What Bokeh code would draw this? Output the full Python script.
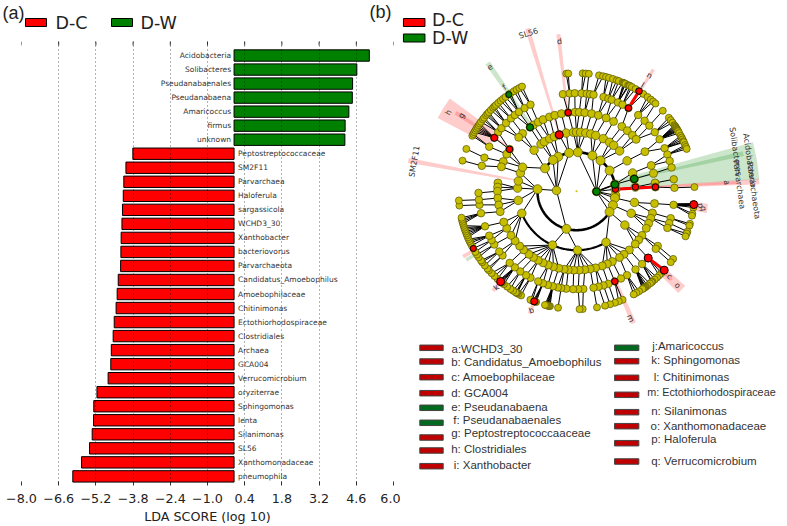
import math
import numpy as np
from bokeh.core.properties import value
from bokeh.embed import file_html
from bokeh.layouts import column, row
from bokeh.models import FixedTicker, Range1d
from bokeh.plotting import figure
from bokeh.resources import INLINE

# ---------- panel (a): LDA scores ----------
green_names = ["Acidobacteria", "Solibacteres", "Pseudanabaenales", "Pseudanabaena",
               "Amaricoccus", "firmus", "unknown"]
green_scores = [5.09, 4.62, 4.46, 4.45, 4.32, 4.18, 4.17]
red_names = ["Peptostreptococcaceae", "SM2F11", "Parvarchaea", "Haloferula", "sargassicola",
             "WCHD3_30", "Xanthobacter", "bacteriovorus", "Parvarchaeota",
             "Candidatus_Amoebophilus", "Amoebophilaceae", "Chitinimonas",
             "Ectothiorhodospiraceae", "Clostridiales", "Archaea", "GCA004", "Verrucomicrobium",
             "oryziterrae", "Sphingomonas", "lenta", "Silanimonas", "SL56",
             "Xanthomonadaceae", "pneumophila"]
red_scores = [-3.81, -4.07, -4.15, -4.17, -4.20, -4.22, -4.25, -4.26, -4.27, -4.36, -4.40, -4.44,
              -4.51, -4.55, -4.62, -4.64, -4.74, -5.16, -5.28, -5.29, -5.34, -5.44, -5.74, -6.07]
tick_values = [-8.0, -6.6, -5.2, -3.8, -2.4, -1.0, 0.4, 1.8, 3.2, 4.6, 6.0]
tick_labels = ["\u22128.0", "\u22126.6", "\u22125.2", "\u22123.8", "\u22122.4", "\u22121.0",
               "0.4", "1.8", "3.2", "4.6", "6.0"]

# ---------- panel (b): cladogram, node angles (degrees) read per ring ----------
ring_radii = [20, 39, 59, 79, 98, 118]
ring1 = [-1, 178]
ring2 = [10, 3, 32, 52, 66, 88, 101, 118, 127, 144, 177, -105, -6, -10, -21, -32]
ring3 = [136, 127, 123, 117, 112, 107, 100, 93, 90, 86, 81, 76, 71, 63, 56, 51, 43, 31, 18, 12, 4,
         -11, -22, -35, -60, -89, -114, -158, 177, 170, 162, 156, -171]
ring4 = [133, 137, 126, 123, 119, 115, 110, 106, 101, 96, 91, 88, 84, 79, 74, 68, 62, 55, 50, 45,
         41, 30, 19, 13, 6, 3, -9, -16, -20, -24, -28, -34, -38, -42, -48, -53, -57, -63, -67, -71,
         -76, -80, -84, -88, -92, -96, -99, -103, -107, -111, -115, -119, -123, -127, -132, -136,
         -141, -146, -152, -157, 148, 152, 158, 162, 174, 177, 180, -175, -170, -165]
ring5 = [147, 153, 160, 165, 143, 140, 136, 132, 129, 126, 122, 118, 98, 94, 91, 87, 84, 82, 80, 74,
         71, 69, 65, 62, 58, 51, 46, 42, 37, 32, 26, 22, 18, 14, 7, 2, -8, -16, -19, -22, -34, -36,
         -43, -48, -53, -59, -63, -67, -71, -74, -77, -80, -86, -89, -92, -96, -99, -101, -104,
         -107, -110, -113, -118, -121, -125, -129, -133, -139, -142, -147, -150, -153, -159, -167,
         -172, -175, -179]
ring6 = [165, 159, 152, 151, 150, 149, 148, 147, 146, 145, 144, 142.5, 141.5, 140, 139, 138, 136.5,
         135, 134, 133, 131.5, 130, 128.5, 127, 125, 124, 122, 120.5, 119, 117.5, 95, 94, 87, 85.5,
         84, 79, 77, 75.5, 74, 72, 70, 69, 67, 66.5, 66, 65.5, 64, 63.5, 63, 62, 60, 58, 55.5, 53,
         51, 49.5, 48, 43, 38.5, 37, 35.5, 34, 33.5, 33, 32.5, 32, 31.5, 31, 30.5, 29.5, 28, 27, 26,
         25, 24.5, 23, 22, 21, 2, -6.5, -7.2, -8, -11, -12, -16, -17, -20, -21, -22.5, -35, -37,
         -42, -44, -45.5, -47, -48.5, -50, -50.5, -51.5, -53, -54, -54.5, -55, -55.5, -56, -58,
         -59.5, -61, -67, -69, -71, -73.5, -76, -80, -87, -88.5, -99, -103, -103.5, -104, -104.5,
         -105, -105.5, -110, -110.5, -111, -111.5, -112, -113, -118, -119.5, -120.2, -120.6, -121,
         -122.5, -124, -126, -128, -129, -129.5, -130, -130.5, -131, -132, -134, -136, -138, -139,
         -141, -143, -144, -146, -147.5, -149, -151, -152.5, -154, -155, -156, -157, -158, -159,
         -160, -161, -162, -163, -164, -165, -166, -167, -173, -175.5]
rings = [ring1, ring2, ring3, ring4, ring5, ring6]
ring_sizes = [8.5, 9, 8.5, 8, 7.5, 7]

red_node_ring = [1, 2, 3, 3, 4, 2, 3, 5, 4, 5, 5, 4, 4, 5, 5, 5]
red_node_angle = [3, 4, 3, 148, 147, 107, 96, 58, 58, -6.5, -42, -43, -67, -130, -111, -151]
red_node_size = [6.5, 6.5, 6.5, 6.5, 7, 8, 6.5, 6.5, 6.5, 8, 8, 8, 6.5, 8, 7, 6]
green_node_ring = [0, 1, 2, 3, 5]
green_node_angle = [-1, 10, 12, 126, 125]
green_node_size = [7.5, 7.5, 7.5, 7, 6]

# highlighted clades: centre angle, angular width, inner and outer radius
wedge_angle = [9.6, 12.7, 124.7, 3.05, 3.05, 148, 147, 169.6, 106.8, 96.6, 57.7, -43, -43,
               -66.6, -6.5, -8.5, -150, -148, -130, -111]
wedge_width = [11.8, 1.7, 2.0, 1.7, 1.0, 8.4, 1.6, 1.6, 1.6, 1.5, 1.4, 4.0, 1.5, 2.0, 2.0, 2.0,
               1.6, 1.6, 1.8, 1.6]
wedge_inner = [39, 59, 79, 39, 59, 98, 79, 59, 59, 79, 98, 118, 98, 98, 118, 118, 118, 118, 118, 118]
wedge_outer = [183, 171, 156, 183, 160, 157, 144, 171, 170, 158, 144, 144, 130, 144, 132, 132,
               131, 130, 130, 131]
wedge_color = ["g", "g", "g", "r", "r", "r", "r", "r", "r", "r", "r", "r", "r", "r", "r", "r",
               "r", "g", "r", "r"]

clade_labels = ["Acidobacteria", "Parvarchaeota", "Solibacteres", "Parvarchaea", "a", "SM2F11", "h",
                "g", "SL56", "d", "e", "f", "n", "l", "p", "q", "o", "c", "m", "k", "b"]
clade_label_x = [749, 753, 735, 738.5, 726, 414, 448, 461, 528, 559, 489, 504, 649, 642, 700, 703,
                 677, 669, 630, 496, 531]
clade_label_y = [160, 190, 151, 184, 182, 161, 112, 115, 33, 41, 66, 87, 75, 85, 205, 208, 285, 276,
                 318, 287, 310]
clade_label_rot = [-82, -82, -82, -82, -88, 80, 60, 60, 17, 6, 35, 35, -30, -30, -80, -80, -45, -45,
                   -65, 40, 20]

key_left = ["a:WCHD3_30", "b: Candidatus_Amoebophilus", "c: Amoebophilaceae", "d: GCA004",
            "e: Pseudanabaena", "f: Pseudanabaenales", "g: Peptostreptococcaaceae",
            "h: Clostridiales", "i: Xanthobacter"]
key_left_color = ["r", "r", "r", "r", "g", "g", "r", "r", "r"]
key_right = ["j:Amaricoccus", "k: Sphingomonas", "l: Chitinimonas", "m: Ectothiorhodospiraceae",
             "n: Silanimonas", "o: Xanthomonadaceae", "p: Haloferula", "q: Verrucomicrobium"]
key_right_color = ["g", "r", "r", "r", "r", "r", "r", "r"]

# ---------- header strip above panel (a) ----------
head = figure(width=400, height=41, output_backend="svg", toolbar_location=None,
              x_range=Range1d(0, 400), y_range=Range1d(41, 0), x_axis_location=None,
              y_axis_location=None, min_border=0, outline_line_color=None, frame_align=False)
head.grid.visible = False
head.rect(x=[35.5, 121.5], y=[22, 22], width=21, height=8, fill_color=["#ff0000", "#008000"],
          line_color="black", line_width=1)
head.text(x=[55, 140], y=[22, 22], text=["D-C", "D-W"], text_baseline="middle",
          text_font=value("DejaVu Sans"), text_font_size="17.5px", text_color="#222222")
head.text(x=[2, 369], y=[12, 11], text=["(a)", "(b)"], text_baseline="middle",
          text_font=value("Liberation Sans"), text_font_size="18px", text_color="#222222")

# ---------- panel (a) drawing ----------
fa = figure(width=400, height=485, output_backend="svg", toolbar_location=None,
            x_range=Range1d(-8.0, 6.0), y_range=Range1d(30.65, -1.0),
            min_border_left=21, min_border_right=7, min_border_top=0, min_border_bottom=41,
            outline_line_color=None, x_axis_location="below", y_axis_location=None,
            frame_align=False)
y_green = list(range(len(green_names)))
y_red = [len(green_names) + i for i in range(len(red_names))]
fa.hbar(y=y_green, left=0, right=green_scores, height=0.81, fill_color="#008000",
        line_color="black", line_width=1)
fa.hbar(y=y_red, left=0, right=red_scores, height=0.81, fill_color="#ff0000",
        line_color="black", line_width=1)
fa.ygrid.visible = False
fa.xgrid.ticker = FixedTicker(ticks=tick_values)
fa.xgrid.grid_line_color = "black"
fa.xgrid.grid_line_alpha = 0.6
fa.xgrid.grid_line_dash = "1 3"
fa.xgrid.level = "annotation"
ax = fa.xaxis[0]
ax.ticker = FixedTicker(ticks=tick_values)
ax.major_label_overrides = dict(zip(tick_values, tick_labels))
ax.axis_label = "LDA SCORE (log 10)"
ax.axis_label_text_font = "DejaVu Sans"
ax.axis_label_text_font_size = "12.7px"
ax.axis_label_text_font_style = "normal"
ax.axis_label_text_color = "#222222"
ax.axis_label_standoff = 3
ax.major_label_text_font = "DejaVu Sans"
ax.major_label_text_font_size = "12.7px"
ax.major_label_text_color = "#222222"
ax.major_label_standoff = 8
ax.axis_line_color = None
ax.major_tick_in = 4
ax.major_tick_out = 0
ax.major_tick_line_color = "#333333"
ax.minor_tick_line_color = None
# short tick marks along the top edge of the plot
fa.segment(x0=tick_values, x1=tick_values, y0=[-1.0] * len(tick_values),
           y1=[-0.72] * len(tick_values), line_color="#333333", line_width=1)
fa.text(x=0, y=y_green, text=green_names, x_offset=-3, text_align="right", text_baseline="middle",
        text_font=value("DejaVu Sans"), text_font_size="7.5px", text_color="#333333")
fa.text(x=0, y=y_red, text=red_names, x_offset=4, text_align="left", text_baseline="middle",
        text_font=value("DejaVu Sans"), text_font_size="7.5px", text_color="#333333")

# ---------- panel (b) drawing ----------
CX, CY = 576.0, 190.7
def px(v):
    return v - CX
def py(v):
    return CY - v
def polar(r, a):
    t = np.radians(a)
    return r * np.cos(t), r * np.sin(t)

fb = figure(width=387, height=526, output_backend="svg", toolbar_location=None,
            x_range=Range1d(px(400), px(787)), y_range=Range1d(py(526), py(0)),
            x_axis_location=None, y_axis_location=None, min_border=0, outline_line_color=None,
            frame_align=False)
fb.grid.visible = False
fb.annular_wedge(x=0, y=0, inner_radius=wedge_inner, outer_radius=wedge_outer,
                 start_angle=[math.radians(a - w / 2) for a, w in zip(wedge_angle, wedge_width)],
                 end_angle=[math.radians(a + w / 2) for a, w in zip(wedge_angle, wedge_width)],
                 fill_color=["#ff0000" if c == "r" else "#008000" for c in wedge_color],
                 fill_alpha=0.2, line_color=None)

def arc(r, a0, a1):
    n = max(2, int(abs(a1 - a0)))
    t = np.radians(np.linspace(a0, a1, n))
    return list(r * np.cos(t)), list(r * np.sin(t))
for r, a0, a1, w in [(39, 177, 326, 2.6), (39, 10, 144, 2.6), (59, 202, 300, 2.2)]:
    xa, ya = arc(r, a0, a1)
    fb.line(xa, ya, line_color="black", line_width=w)

xs, ys = [], []
for k in range(1, len(rings)):
    for a in rings[k]:
        parent = min(rings[k - 1], key=lambda b: abs((b - a + 180) % 360 - 180))
        x0, y0 = polar(ring_radii[k - 1], parent)
        x1, y1 = polar(ring_radii[k], a)
        xs.append([x0, x1]); ys.append([y0, y1])
fb.multi_line(xs, ys, line_color="black", line_width=1)

# thick clade branches
for (r0, a0, r1, a1, c, w) in [(39, 3, 79, 3, "#ff0000", 3), (98, 58, 118, 58, "#ff0000", 3),
                               (98, -43, 118, -42, "#ff0000", 3), (98, -8, 118, -6.5, "black", 3),
                               (20, -1, 39, 10, "black", 1.5)]:
    x0, y0 = polar(r0, a0); x1, y1 = polar(r1, a1)
    fb.line([x0, x1], [y0, y1], line_color=c, line_width=w)

for k, angs in enumerate(rings):
    px_x, px_y = polar(ring_radii[k], np.array(angs, dtype=float))
    fb.scatter(px_x, px_y, size=ring_sizes[k], fill_color="#c8be00", line_color="#555500",
               line_width=0.7)
fb.scatter([0], [0], size=2, fill_color="#c8be00", line_color=None)

rx, ry = polar(np.array([ring_radii[k] for k in red_node_ring], dtype=float),
               np.array(red_node_angle, dtype=float))
fb.scatter(rx, ry, size=red_node_size, fill_color="#ff0000", line_color="black", line_width=1)
gx, gy = polar(np.array([ring_radii[k] for k in green_node_ring], dtype=float),
               np.array(green_node_angle, dtype=float))
fb.scatter(gx, gy, size=green_node_size, fill_color="#008000", line_color="black", line_width=1)

fb.text(x=[px(v) for v in clade_label_x], y=[py(v) for v in clade_label_y], text=clade_labels,
        angle=clade_label_rot, angle_units="deg", text_align="center", text_baseline="middle",
        text_font=value("DejaVu Sans"), text_font_size="8px", text_color="#333333")

# top legend of panel (b)
fb.rect(x=[px(413.7)] * 2, y=[py(22), py(37.5)], width=21.5, height=8,
        fill_color=["#ff0000", "#008000"], line_color="black", line_width=1)
fb.text(x=[px(431.5)] * 2, y=[py(19), py(37)], text=["D-C", "D-W"], text_baseline="middle",
        text_font=value("DejaVu Sans"), text_font_size="17.5px", text_color="#222222")

# key of lettered clades
kl_rect_y = [347.3, 361, 376.7, 392.7, 407.3, 422.3, 437, 450, 465.7]
kl_text_x = [451, 450.7, 450.7, 450.7, 450.7, 452.7, 450.7, 450.7, 453.3]
kl_text_y = [348.3, 361.7, 376, 392.3, 406, 419, 432, 448.3, 464.3]
kr_rect_y = [347.3, 360.7, 377.3, 394.3, 411.7, 425.7, 442.7, 461]
kr_text_x = [651.7, 650.7, 653.3, 646.7, 650.7, 650, 650.7, 650.7]
kr_text_y = [345.7, 359.7, 376.3, 391.7, 410, 425, 438.7, 460.3]
kr_text_size = ["11.5px", "11.5px", "11.5px", "10.8px", "11.5px", "11.5px", "11.5px", "11.5px"]
def col(seq):
    return ["#c00000" if c == "r" else "#006b1e" for c in seq]
fb.rect(x=[px(431)] * 9, y=[py(v) for v in kl_rect_y], width=23.4, height=5.5,
        fill_color=col(key_left_color), line_color="#444444", line_width=1)
fb.rect(x=[px(626.2)] * 8, y=[py(v) for v in kr_rect_y], width=24.3, height=5.5,
        fill_color=col(key_right_color), line_color="#444444", line_width=1)
fb.text(x=[px(v) for v in kl_text_x], y=[py(v) for v in kl_text_y], text=key_left,
        text_baseline="middle", text_font=value("Liberation Sans"), text_font_size="11.5px",
        text_color="#333333")
fb.text(x=[px(v) for v in kr_text_x], y=[py(v) for v in kr_text_y], text=key_right,
        text_baseline="middle", text_font=value("Liberation Sans"), text_font_size=kr_text_size,
        text_color="#333333")

layout = row(column(head, fa, spacing=0), fb, spacing=0)
open("out.html", "w").write(file_html(layout, INLINE))
